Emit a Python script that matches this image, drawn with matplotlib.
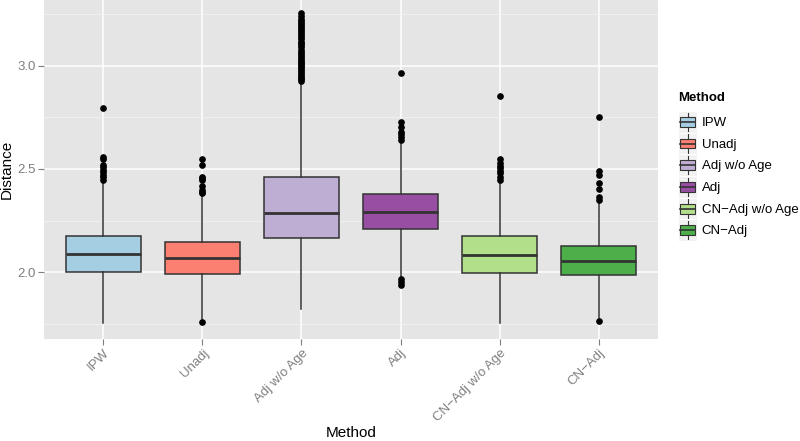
import matplotlib
matplotlib.use("Agg")
import matplotlib.pyplot as plt
from matplotlib.legend_handler import HandlerBase
from matplotlib.patches import Rectangle
from matplotlib.lines import Line2D

plt.rcParams['font.family'] = ['Liberation Sans', 'DejaVu Sans']

methods = ["IPW", "Unadj", "Adj w/o Age", "Adj", "CN\u2212Adj w/o Age", "CN\u2212Adj"]
colors = ["#A6CEE3", "#FB8072", "#BEAED4", "#984EA3", "#B2DF8A", "#4DAF4A"]

q1 = [2.000, 1.992, 2.167, 2.210, 1.997, 1.985]
med = [2.089, 2.068, 2.288, 2.290, 2.084, 2.055]
q3 = [2.176, 2.146, 2.463, 2.379, 2.173, 2.128]
whislo = [1.751, 1.770, 1.820, 1.975, 1.754, 1.775]
whishi = [2.430, 2.370, 2.920, 2.630, 2.430, 2.340]

out_ipw = [2.447, 2.46, 2.47, 2.485, 2.495, 2.51, 2.52, 2.55, 2.56, 2.795]
out_unadj = [1.757, 2.382, 2.39, 2.398, 2.417, 2.447, 2.455, 2.46, 2.52, 2.549]
out_adj_noage = [2.927, 2.935, 2.94, 2.952, 2.96, 2.97, 2.978, 2.99, 3.0, 3.005,
                 3.015, 3.02, 3.03, 3.04, 3.048, 3.06, 3.07, 3.075, 3.09, 3.10,
                 3.11, 3.118, 3.13, 3.14, 3.15, 3.16, 3.17, 3.18, 3.19, 3.20,
                 3.21, 3.22, 3.23, 3.24, 3.256]
out_adj = [1.937, 1.95, 1.964, 2.641, 2.657, 2.67, 2.681, 2.702, 2.727, 2.967]
out_cn_noage = [2.447, 2.463, 2.479, 2.49, 2.503, 2.515, 2.528, 2.547, 2.853]
out_cn = [1.762, 2.35, 2.366, 2.401, 2.43, 2.471, 2.492, 2.751]
outliers = [out_ipw, out_unadj, out_adj_noage, out_adj, out_cn_noage, out_cn]

stats = []
for i in range(len(methods)):
    stats.append(dict(label=methods[i], q1=q1[i], med=med[i], q3=q3[i],
                      whislo=whislo[i], whishi=whishi[i], fliers=outliers[i]))

fig = plt.figure(figsize=(8, 4.41), dpi=100)
ax = fig.add_axes([0.055, 0.2313, 0.7675, 0.7687])
ax.set_facecolor("#E5E5E5")
for s in ax.spines.values():
    s.set_visible(False)

ax.set_xlim(0.4, 6.6)
ax.set_ylim(1.675, 3.32)
ax.set_yticks([2.0, 2.5, 3.0])
ax.set_yticks([1.75, 2.25, 2.75, 3.25], minor=True)
ax.grid(True, which="major", color="white", lw=1.1)
ax.grid(True, which="minor", axis="y", color="#F2F2F2", lw=0.6)
ax.set_axisbelow(True)

bp = ax.bxp(stats, positions=range(1, 7), widths=0.75, patch_artist=True,
            showcaps=False,
            boxprops=dict(edgecolor="#333333", linewidth=1.1),
            whiskerprops=dict(color="#333333", linewidth=1.1),
            medianprops=dict(color="#333333", linewidth=2.0),
            flierprops=dict(marker="o", markerfacecolor="black",
                            markeredgecolor="black", markersize=3.8))
for patch, c in zip(bp["boxes"], colors):
    patch.set_facecolor(c)

ax.set_xticks(range(1, 7))
ax.set_xticklabels(methods, rotation=45, ha="right", va="top",
                   rotation_mode="anchor")
ax.tick_params(axis="both", which="major", colors="#7F7F7F", labelsize=9.5,
               length=4, width=0.8, pad=1.8)
ax.tick_params(axis="y", which="minor", length=0)
for lab in ax.get_xticklabels() + ax.get_yticklabels():
    lab.set_color("#7F7F7F")

ax.set_ylabel("Distance", fontsize=11, va="center")
ax.yaxis.set_label_coords(-0.06, 0.5)
ax.set_xlabel("Method", fontsize=11, va="center")
ax.xaxis.set_label_coords(0.5, -0.277)


class BoxKey(HandlerBase):
    def create_artists(self, legend, orig_handle, xdescent, ydescent,
                       width, height, fontsize, trans):
        x0, y0 = -xdescent, -ydescent
        bg = Rectangle((x0, y0), width, height, facecolor="#F2F2F2",
                       edgecolor="white", lw=0.8, transform=trans)
        cx = x0 + width / 2
        box = Rectangle((x0 + width * 0.12, y0 + height * 0.27), width * 0.76,
                        height * 0.46, facecolor=orig_handle.get_facecolor(),
                        edgecolor="#333333", lw=0.8, transform=trans)
        mid = Line2D([x0 + width * 0.12, x0 + width * 0.88],
                     [y0 + height / 2] * 2, color="#333333", lw=1.2,
                     transform=trans)
        w1 = Line2D([cx, cx], [y0 + height * 0.08, y0 + height * 0.27],
                    color="#333333", lw=0.8, transform=trans)
        w2 = Line2D([cx, cx], [y0 + height * 0.73, y0 + height * 0.92],
                    color="#333333", lw=0.8, transform=trans)
        return [bg, box, mid, w1, w2]


fig.text(678 / 800, 1 - 98 / 441, "Method", fontsize=9.5, weight="bold",
         ha="left", va="center")
handles = [Rectangle((0, 0), 1, 1, facecolor=c) for c in colors]
leg = fig.legend(handles, methods, handler_map={Rectangle: BoxKey()},
                 loc="upper left", bbox_to_anchor=(678 / 800, 1 - 111 / 441),
                 frameon=False, fontsize=9.5,
                 handlelength=1.45, handleheight=2.15,
                 labelspacing=0.0, handletextpad=0.35, borderpad=0,
                 borderaxespad=0)

fig.savefig("out.png", dpi=100)
